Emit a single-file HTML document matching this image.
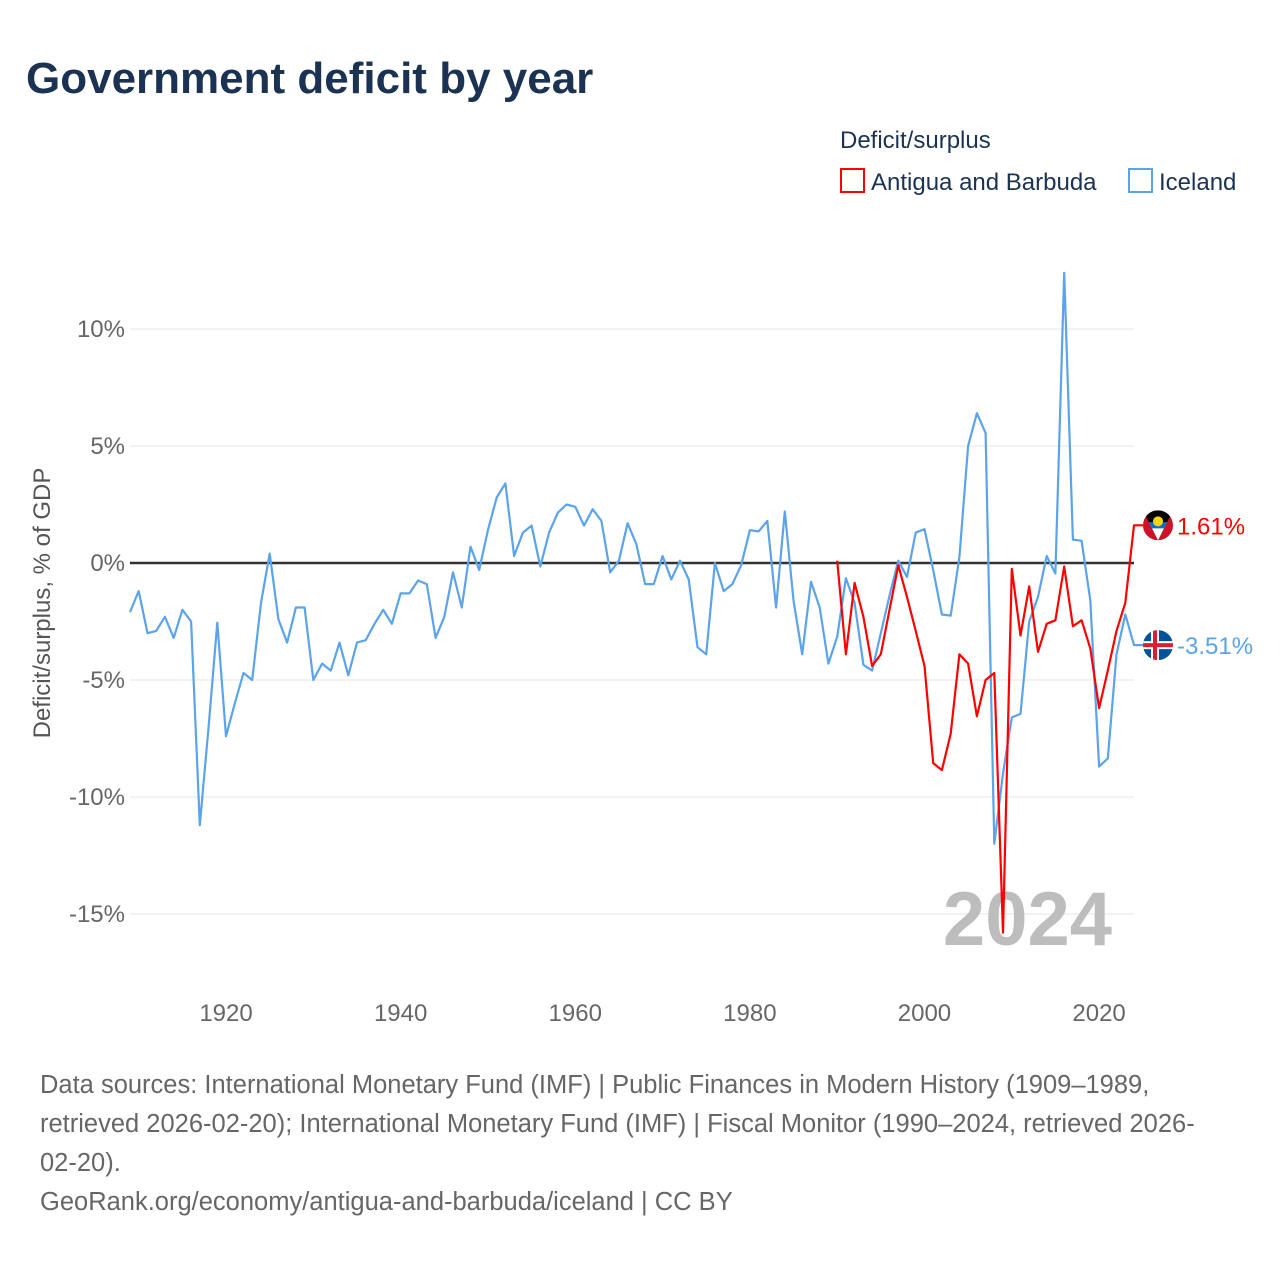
<!DOCTYPE html>
<html><head><meta charset="utf-8"><style>
body{margin:0;background:#fff;font-family:"Liberation Sans",sans-serif;}
#wrap{position:relative;width:1280px;height:1280px;overflow:hidden;background:#fff}
</style></head><body>
<div id="wrap">
<svg id="svg" width="1280" height="1280" style="position:absolute;left:0;top:0">
<text x="26" y="93" font-size="44" font-weight="bold" fill="#1b3253">Government deficit by year</text>
<text x="840" y="148" font-size="24" fill="#1b3253">Deficit/surplus</text>
<g><rect x="841" y="169" width="23" height="23" fill="#fff" stroke="#f00" stroke-width="2"/><text x="871" y="190" font-size="24" fill="#1b3253">Antigua and Barbuda</text></g>
<g><rect x="1129" y="169" width="23" height="23" fill="#fff" stroke="#5ba3ea" stroke-width="2"/><text x="1159" y="190" font-size="24" fill="#1b3253">Iceland</text></g>
<g id="grid"></g>
<text x="1112" y="945" font-size="76" font-weight="bold" fill="#bdbdbd" text-anchor="end">2024</text>
<g id="series"></g>
<text transform="translate(50,603) rotate(-90)" font-size="24" fill="#555" text-anchor="middle">Deficit/surplus, % of GDP</text>
<g font-size="25.5" fill="#666">
<text x="40" y="1093">Data sources: International Monetary Fund (IMF) | Public Finances in Modern History (1909–1989,</text>
<text x="40" y="1132">retrieved 2026-02-20); International Monetary Fund (IMF) | Fiscal Monitor (1990–2024, retrieved 2026-</text>
<text x="40" y="1171">02-20).</text>
<text x="40" y="1210">GeoRank.org/economy/antigua-and-barbuda/iceland | CC BY</text>
</g>
</svg>
</div>
<script>
const iceYears0 = 1909;
const icelandValues = [-2.1,-1.2,-3.0,-2.9,-2.3,-3.2,-2.0,-2.5,-11.2,-7.0,-2.55,-7.4,-6.0,-4.7,-5.0,-1.7,0.4,-2.4,-3.4,-1.9,-1.9,-5.0,-4.3,-4.6,-3.4,-4.8,-3.4,-3.3,-2.6,-2.0,-2.6,-1.3,-1.3,-0.75,-0.9,-3.2,-2.3,-0.4,-1.9,0.7,-0.3,1.4,2.8,3.4,0.3,1.3,1.6,-0.15,1.3,2.15,2.5,2.4,1.6,2.3,1.8,-0.4,0.1,1.7,0.8,-0.9,-0.9,0.3,-0.7,0.1,-0.7,-3.6,-3.9,0,-1.2,-0.9,-0.1,1.4,1.35,1.8,-1.9,2.2,-1.6,-3.9,-0.8,-1.9,-4.3,-3.15,-0.65,-1.7,-4.35,-4.6,-3.0,-1.4,0.1,-0.6,1.3,1.45,-0.3,-2.2,-2.25,0.25,5.0,6.4,5.55,-12.0,-9.0,-6.6,-6.45,-2.5,-1.45,0.3,-0.45,12.4,1.0,0.95,-1.6,-8.7,-8.35,-3.9,-2.2,-3.51];
const abYears0 = 1990;
const antiguaValues = [0.1,-3.9,-0.85,-2.3,-4.4,-3.9,-2.0,-0.1,-1.45,-2.9,-4.4,-8.55,-8.85,-7.3,-3.9,-4.3,-6.55,-5.0,-4.7,-15.8,-0.25,-3.1,-1.0,-3.8,-2.6,-2.45,-0.15,-2.7,-2.45,-3.65,-6.2,-4.6,-2.9,-1.7,1.61];
const yTicks = [10,5,0,-5,-10,-15];
const yTickLabels = ["10%","5%","0%","-5%","-10%","-15%"];
const xTicks = [1920,1940,1960,1980,2000,2020];

const NS="http://www.w3.org/2000/svg";
const X0=130,X1=1134;
const xS=yr=>X0+(yr-1909)*(X1-X0)/(2024-1909);
const yS=v=>563-v*23.4;
function mk(tag,attrs,parent){const e=document.createElementNS(NS,tag);for(const k in attrs)e.setAttribute(k,attrs[k]);parent.appendChild(e);return e;}
const grid=document.getElementById('grid');
yTicks.forEach((t,i)=>{
  const l=mk('line',{x1:X0,x2:X1,y1:yS(t),y2:yS(t),stroke:t===0?'#333':'#e6e6e6','stroke-width':t===0?2.5:1},grid);
  
  
  const tx=mk('text',{x:125,y:yS(t)+8,'font-size':24,fill:'#666','text-anchor':'end'},grid);
  tx.textContent=yTickLabels[i];
  
  
});
xTicks.forEach(t=>{
  const tx=mk('text',{x:xS(t),y:1021,'font-size':24,fill:'#666','text-anchor':'middle'},grid);
  tx.textContent=t;
  
  
});
const ser=document.getElementById('series');
function line(vals,y0,color,name){
  const pts=vals.map((v,i)=>xS(y0+i).toFixed(1)+','+yS(v).toFixed(1));
  const last=vals[vals.length-1];
  pts.push('1143,'+yS(last).toFixed(1));
  const p=mk('polyline',{points:pts.join(' '),fill:'none',stroke:color,'stroke-width':2.2,'stroke-linejoin':'round'},ser);
  
  
}
line(icelandValues,iceYears0,'#5ba3ea','iceland-line');
line(antiguaValues,abYears0,'#ff0000','antigua-line');
function flag(v,kind,color,label){
  const cy=yS(v),cx=1158;
  const g=mk('g',{},ser);
  
  
  const cp=mk('clipPath',{id:'cp'+kind},g);mk('circle',{cx:cx,cy:cy,r:15},cp);
  const f=mk('g',{'clip-path':'url(#cp'+kind+')'},g);
  if(kind==='iceland'){
    mk('rect',{x:cx-15,y:cy-15,width:30,height:30,fill:'#02529c'},f);
    mk('rect',{x:cx-15,y:cy-4,width:30,height:8,fill:'#fff'},f);
    mk('rect',{x:cx-7,y:cy-15,width:8,height:30,fill:'#fff'},f);
    mk('rect',{x:cx-15,y:cy-2,width:30,height:4,fill:'#dc1e35'},f);
    mk('rect',{x:cx-5,y:cy-15,width:4,height:30,fill:'#dc1e35'},f);
  } else {
    mk('rect',{x:cx-15,y:cy-15,width:30,height:30,fill:'#ce1126'},f);
    mk('polygon',{points:`${cx-15},${cy-15} ${cx+15},${cy-15} ${cx},${cy+15}`,fill:'#000'},f);
    mk('polygon',{points:`${cx-9},${cy-3} ${cx+9},${cy-3} ${cx},${cy+15}`,fill:'#fff'},f);
    mk('polygon',{points:`${cx-9},${cy-3} ${cx+9},${cy-3} ${cx+6},${cy+3} ${cx-6},${cy+3}`,fill:'#0072c6'},f);
    mk('circle',{cx:cx,cy:cy-4,r:5,fill:'#fcd116'},f);
  }
  const t=mk('text',{x:1177,y:cy+9,'font-size':24,fill:color},ser);
  t.textContent=label;
  
  
}
flag(antiguaValues[antiguaValues.length-1],'antigua','#ff0000','1.61%');
flag(icelandValues[icelandValues.length-1],'iceland','#5ba3ea','-3.51%');
</script>
</body></html>
